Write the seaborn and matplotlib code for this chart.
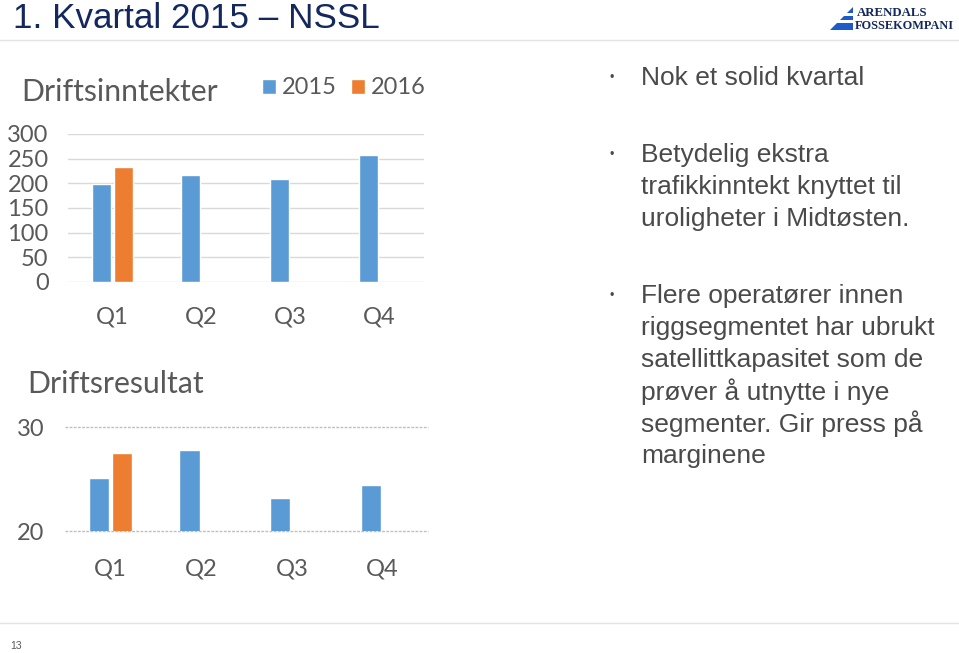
import matplotlib
matplotlib.use("Agg")
import matplotlib.pyplot as plt
from matplotlib.patches import Polygon
import seaborn as sns
import pandas as pd
import numpy as np

# Chart data
quarters = ["Q1", "Q2", "Q3", "Q4"]
years = ["2015", "2016"]
inntekter_2015 = [198, 216, 209, 257]
inntekter_2016 = [233, np.nan, np.nan, np.nan]
resultat_2015 = [25.1, 27.8, 23.2, 24.4]
resultat_2016 = [27.5, np.nan, np.nan, np.nan]
inntekter_ticks = [0, 50, 100, 150, 200, 250, 300]
resultat_ticks = [20, 30]

BLUE = "#5B9BD5"
ORANGE = "#ED7D31"
GREY_TXT = "#595959"
NAVY = "#14285F"

sns.set_theme(style="white")
plt.rcParams["font.family"] = ["Lato", "DejaVu Sans"]


def make_df(v15, v16):
    return pd.DataFrame({
        "kvartal": quarters * 2,
        "år": [years[0]] * 4 + [years[1]] * 4,
        "verdi": list(v15) + list(v16),
    })


fig = plt.figure(figsize=(9.59, 6.53), dpi=100)
W, H = 959, 653


def px_axes(x0, y0, x1, y1):
    return fig.add_axes([x0 / W, 1 - y1 / H, (x1 - x0) / W, (y1 - y0) / H])


def px_poly(points, color):
    fig.add_artist(Polygon([(x / W, 1 - y / H) for x, y in points], closed=True,
                           color=color, lw=0, transform=fig.transFigure))


palette = {years[0]: BLUE, years[1]: ORANGE}

# Driftsinntekter
ax1 = px_axes(68, 134, 424, 282)
sns.barplot(data=make_df(inntekter_2015, inntekter_2016), x="kvartal", y="verdi",
            hue="år", hue_order=years, palette=palette, width=0.5, gap=0.15,
            saturation=1, ax=ax1, legend=True)
ax1.set_ylim(0, 300)
ax1.set_yticks(inntekter_ticks)
ax1.grid(axis="y", color="#D9D9D9", linewidth=1)
ax1.set_axisbelow(True)
handles, labels = ax1.get_legend_handles_labels()
ax1.get_legend().remove()

# Driftsresultat
ax2 = px_axes(65, 427, 428, 531)
sns.barplot(data=make_df(resultat_2015, resultat_2016), x="kvartal", y="verdi",
            hue="år", hue_order=years, palette=palette, width=0.51, gap=0.12,
            saturation=1, ax=ax2, legend=False)
ax2.set_ylim(20, 30)
ax2.set_yticks(resultat_ticks)
ax2.grid(axis="y", color="#BFBFBF", linewidth=1, linestyle=(0, (2, 1)), clip_on=False)
ax2.set_axisbelow(True)

for ax, ypad, xpad in [(ax1, 14, 18), (ax2, 15, 20)]:
    ax.set_xlabel("")
    ax.set_ylabel("")
    for s in ax.spines.values():
        s.set_visible(False)
    ax.tick_params(axis="y", length=0, pad=ypad, labelsize=17, labelcolor=GREY_TXT)
    ax.tick_params(axis="x", length=0, pad=xpad, labelsize=17, labelcolor=GREY_TXT)

fig.text(21 / W, 1 - 92 / H, "Driftsinntekter", fontsize=21.8, color=GREY_TXT,
         va="center", ha="left")
fig.text(27 / W, 1 - 384 / H, "Driftsresultat", fontsize=21.8, color=GREY_TXT,
         va="center", ha="left")
fig.legend(handles, labels, loc="center left", bbox_to_anchor=(262 / W, 1 - 88 / H),
           ncol=2, frameon=False, fontsize=17, labelcolor=GREY_TXT,
           handlelength=0.6, handleheight=0.6, handletextpad=0.25,
           columnspacing=0.6, borderpad=0, borderaxespad=0)

# Slide frame: title, rules, page number
fig.text(13 / W, 1 - 18 / H, "1. Kvartal 2015 – NSSL", fontsize=25.2, color=NAVY,
         family=["Liberation Sans", "DejaVu Sans"], va="center", ha="left")
fig.add_artist(plt.Line2D([0, 1], [1 - 40 / H] * 2, color="#E3E3E3", linewidth=1))
fig.add_artist(plt.Line2D([0, 1], [1 - 623 / H] * 2, color="#E3E3E3", linewidth=1))
fig.text(10 / W, 1 - 646 / H, "13", fontsize=7.5, color=GREY_TXT,
         family=["Liberation Sans Narrow", "Liberation Sans"], va="center")

# Logo
px_poly([(830, 30), (853, 7), (853, 30)], "#1E5AC8")
px_poly([(844, 13), (854, 13), (854, 16), (841, 16)], "white")
px_poly([(838, 20), (854, 20), (854, 23), (835, 23)], "white")
fig.text(857 / W, 1 - 13 / H, "ARENDALS", fontsize=9.3, weight="bold", color=NAVY,
         family=["Liberation Serif"], va="center", ha="left")
fig.text(855 / W, 1 - 26 / H, "FOSSEKOMPANI", fontsize=8.8, weight="bold", color=NAVY,
         family=["Liberation Serif"], va="center", ha="left")

# Bullet text
body = {"fontsize": 19, "color": "#4A4A4A",
        "family": ["Liberation Sans", "DejaVu Sans"], "va": "center", "ha": "left"}
bullets = [
    (78, ["Nok et solid kvartal"]),
    (155, ["Betydelig ekstra", "trafikkinntekt knyttet til", "uroligheter i Midtøsten."]),
    (296, ["Flere operatører innen", "riggsegmentet har ubrukt",
           "satellittkapasitet som de", "prøver å utnytte i nye",
           "segmenter. Gir press på", "marginene"]),
]
for y0, lines in bullets:
    fig.text(609 / W, 1 - y0 / H, "•", fontsize=9, color="#4A4A4A",
             family=["Liberation Sans"], va="center", ha="left")
    for i, line in enumerate(lines):
        fig.text(641 / W, 1 - (y0 + i * 32) / H, line, **body)

fig.savefig("out.png", dpi=100)
